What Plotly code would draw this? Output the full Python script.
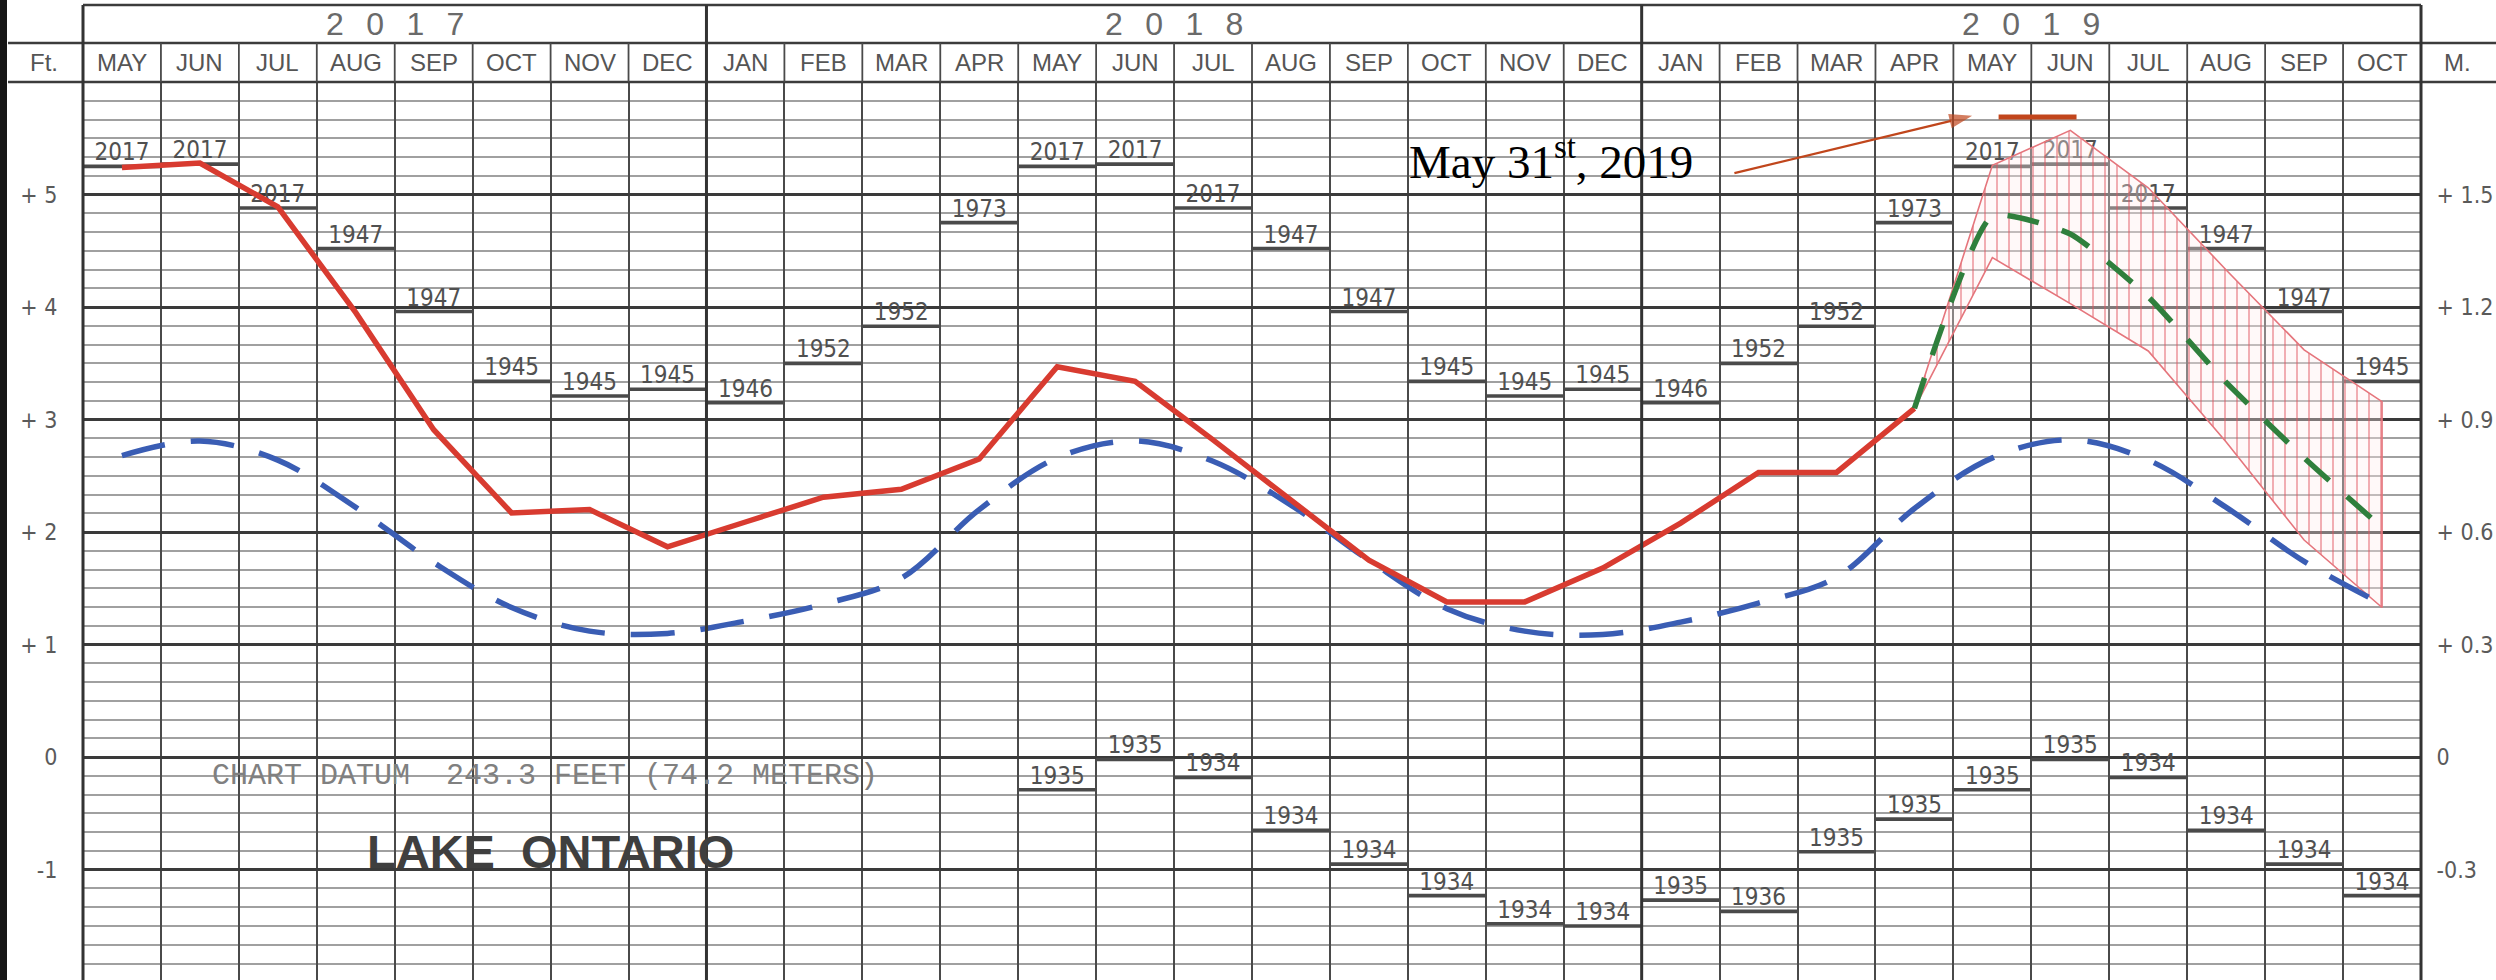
import plotly.graph_objects as go

# ---------------- data ----------------
month_labels = ["MAY", "JUN", "JUL", "AUG", "SEP", "OCT", "NOV", "DEC",
                "JAN", "FEB", "MAR", "APR", "MAY", "JUN", "JUL", "AUG", "SEP", "OCT", "NOV", "DEC",
                "JAN", "FEB", "MAR", "APR", "MAY", "JUN", "JUL", "AUG", "SEP", "OCT"]
year_labels = ["2017", "2018", "2019"]
year_month_counts = [8, 12, 10]

# recorded monthly mean levels (ft above chart datum), May 2017 .. Apr 2019
recorded_ft = [5.24, 5.28, 4.89, 3.95, 2.91, 2.17, 2.20, 1.87,
               2.09, 2.31, 2.38, 2.65, 3.47, 3.34, 2.82, 2.28, 1.75, 1.38, 1.38, 1.68,
               2.08, 2.53, 2.53, 3.10]

# long-term average levels, May 2017 .. Oct 2019
average_ft = [2.68, 2.81, 2.64, 2.22, 1.73, 1.33, 1.12, 1.10,
              1.21, 1.36, 1.59, 2.20, 2.66, 2.81, 2.63, 2.24, 1.75, 1.32, 1.12, 1.09,
              1.20, 1.37, 1.60, 2.21, 2.66, 2.82, 2.64, 2.22, 1.74, 1.36]

# forecast Apr 2019 .. Oct 2019
forecast_ft = [3.10, 4.81, 4.65, 4.09, 3.33, 2.66, 2.04]
forecast_upper_ft = [3.10, 5.26, 5.57, 5.06, 4.33, 3.62, 3.16]
forecast_lower_ft = [3.10, 4.44, 4.03, 3.61, 2.80, 1.93, 1.33]

# record highs / lows by calendar month (JAN..DEC)
record_high_year = ["1946", "1952", "1952", "1973", "2017", "2017", "2017", "1947", "1947", "1945", "1945", "1945"]
record_high_ft = [3.15, 3.50, 3.83, 4.75, 5.25, 5.27, 4.88, 4.52, 3.96, 3.34, 3.21, 3.27]
record_low_year = ["1935", "1936", "1935", "1935", "1935", "1935", "1934", "1934", "1934", "1934", "1934", "1934"]
record_low_ft = [-1.27, -1.37, -0.84, -0.55, -0.29, -0.02, -0.18, -0.65, -0.95, -1.23, -1.48, -1.50]
first_low_column = 12  # record lows are shown from May 2018 on

may31_level_ft = 5.69
may31_bar_x = [24.58, 25.58]
arrow_x = [21.19, 24.24]
arrow_y = [5.19, 5.70]

left_tick_vals = [-1, 0, 1, 2, 3, 4, 5]
left_tick_text = ["-1", "0", "+ 1", "+ 2", "+ 3", "+ 4", "+ 5"]
right_tick_text = ["-0.3", "0", "+ 0.3", "+ 0.6", "+ 0.9", "+ 1.2", "+ 1.5"]

# ---------------- layout constants ----------------
W, H = 2496, 980
ML, MR, MT, MB = 83, 75, 5, 0
PW = W - ML - MR
PH = H - MT - MB
D = 1 - (82 - MT) / PH        # top of grid area (paper)
HM = 1 - (43 - MT) / PH       # year / month row divider (paper)
N = len(month_labels)

NARROW = "Liberation Sans Narrow, Arial Narrow, DejaVu Sans Condensed, Liberation Sans, sans-serif"
SANS = "Liberation Sans, Arial, sans-serif"
GRAY_TXT = "#505050"

centers = [i + 0.5 for i in range(N)]
cal_idx = [(4 + i) % 12 for i in range(N)]

fig = go.Figure()

# record high / low bars
hx, hy, tx, ty, tt = [], [], [], [], []
for i in range(N):
    c = cal_idx[i]
    hx += [i, i + 1, None]
    hy += [record_high_ft[c], record_high_ft[c], None]
    tx.append(centers[i]); ty.append(record_high_ft[c]); tt.append(record_high_year[c])
for i in range(first_low_column, N):
    c = cal_idx[i]
    hx += [i, i + 1, None]
    hy += [record_low_ft[c], record_low_ft[c], None]
    tx.append(centers[i]); ty.append(record_low_ft[c]); tt.append(record_low_year[c])

fig.add_trace(go.Scatter(x=hx, y=hy, mode="lines", line=dict(color="#4a4a4a", width=3.6),
                         hoverinfo="skip"))
fig.add_trace(go.Scatter(x=tx, y=ty, mode="text", text=tt, textposition="top center",
                         textfont=dict(family=NARROW, size=24, color=GRAY_TXT), hoverinfo="skip"))

# forecast band
fc_x = centers[len(recorded_ft) - 1:]
band_x = fc_x + fc_x[::-1]
band_y = forecast_upper_ft + forecast_lower_ft[::-1]
fig.add_trace(go.Scatter(x=band_x, y=band_y, mode="lines", fill="toself",
                         line=dict(color="#e5757c", width=1.6),
                         fillcolor="rgba(253,236,236,0.35)",
                         fillpattern=dict(shape="|", fgcolor="#e0505a", bgcolor="rgba(253,236,236,0.35)",
                                          size=12, solidity=0.15),
                         hoverinfo="skip"))

# long-term average
fig.add_trace(go.Scatter(x=centers, y=average_ft, mode="lines",
                         line=dict(color="#3a5db4", width=5.5, dash="44px,26px", shape="spline", smoothing=1.0),
                         hoverinfo="skip"))

# recorded
fig.add_trace(go.Scatter(x=centers[:len(recorded_ft)], y=recorded_ft, mode="lines",
                         line=dict(color="#d83b30", width=5.5), hoverinfo="skip"))

# forecast
fig.add_trace(go.Scatter(x=fc_x, y=forecast_ft, mode="lines",
                         line=dict(color="#2f7f3c", width=5.5, dash="32px,24px", shape="spline", smoothing=0.5),
                         hoverinfo="skip"))

# May 31st level bar
fig.add_trace(go.Scatter(x=may31_bar_x, y=[may31_level_ft, may31_level_ft], mode="lines",
                         line=dict(color="#c2461c", width=5), hoverinfo="skip"))

# arrow pointing to the May 31st level
fig.add_trace(go.Scatter(x=arrow_x, y=arrow_y, mode="lines+markers",
                         line=dict(color="#c0461c", width=2.2),
                         marker=dict(symbol=["circle", "arrow"], size=[0, 24], angleref="previous",
                                     color="#c0461c", line=dict(width=0)),
                         hoverinfo="skip"))

# dummy trace for right axis
fig.add_trace(go.Scatter(x=[0], y=[0], yaxis="y2", mode="markers", marker=dict(opacity=0),
                         hoverinfo="skip"))

shapes = []
# left black strip
shapes.append(dict(type="rect", xref="paper", yref="paper", x0=-ML / PW, x1=(7 - ML) / PW,
                   y0=-0.01, y1=1 + MT / PH + 0.01, fillcolor="#161616", line=dict(width=0), layer="above"))
# header horizontal lines
for yy in (HM, D):
    shapes.append(dict(type="line", xref="paper", yref="paper", x0=(8 - ML) / PW, x1=(W - ML) / PW,
                       y0=yy, y1=yy, line=dict(color="#3c3c3c", width=2.6), layer="above"))
shapes.append(dict(type="line", xref="paper", yref="paper", x0=0, x1=1, y0=1, y1=1,
                   line=dict(color="#3c3c3c", width=2.6), layer="above"))
# month separators in month row
year_bounds = [0]
for n in year_month_counts:
    year_bounds.append(year_bounds[-1] + n)
for i in range(1, N):
    if i in year_bounds:
        continue
    shapes.append(dict(type="line", xref="x", yref="paper", x0=i, x1=i, y0=D, y1=HM,
                       line=dict(color="#4a4a4a", width=1.8), layer="above"))
# year boundaries (full height)
for b in year_bounds[1:-1]:
    shapes.append(dict(type="line", xref="x", yref="paper", x0=b, x1=b, y0=0, y1=1,
                       line=dict(color="#333333", width=3), layer="above"))
# frame left / right
for px in (0, 1):
    shapes.append(dict(type="line", xref="paper", yref="paper", x0=px, x1=px, y0=0, y1=1,
                       line=dict(color="#333333", width=3), layer="above"))

annotations = []
for i, m in enumerate(month_labels):
    annotations.append(dict(x=centers[i], y=(D + HM) / 2, xref="x", yref="paper", text=m, showarrow=False,
                            font=dict(family=SANS, size=24, color="#555555"), xanchor="center", yanchor="middle"))
for k, yl in enumerate(year_labels):
    annotations.append(dict(x=(year_bounds[k] + year_bounds[k + 1]) / 2, y=(HM + 1) / 2, xref="x", yref="paper",
                            text="\u2002\u2009".join(list(yl)), showarrow=False,
                            font=dict(family=SANS, size=32, color="#6a6a6a"), xanchor="center", yanchor="middle"))
annotations.append(dict(x=(44 - ML) / PW, y=(D + HM) / 2, xref="paper", yref="paper", text="Ft.", showarrow=False,
                        font=dict(family=SANS, size=24, color="#555555"), xanchor="center", yanchor="middle"))
annotations.append(dict(x=(2457 - ML) / PW, y=(D + HM) / 2, xref="paper", yref="paper", text="M.", showarrow=False,
                        font=dict(family=SANS, size=24, color="#555555"), xanchor="center", yanchor="middle"))
annotations.append(dict(x=5.93, y=-0.17, xref="x", yref="y",
                        text="CHART DATUM\u00a0\u00a0243.3 FEET (74.2 METERS)", showarrow=False,
                        font=dict(family="Liberation Mono, DejaVu Sans Mono, monospace", size=30, color="#808080"),
                        xanchor="center", yanchor="middle"))
annotations.append(dict(x=6.0, y=-0.84, xref="x", yref="y", text="LAKE\u00a0\u00a0ONTARIO", showarrow=False,
                        font=dict(family=SANS, size=47, color="#3f3f3f", weight="bold"),
                        xanchor="center", yanchor="middle"))
annotations.append(dict(x=16.99, y=5.32, xref="x", yref="y", text="May 31<sup>st</sup>, 2019", showarrow=False,
                        font=dict(family="Liberation Serif, Times New Roman, serif", size=47, color="#000000"),
                        xanchor="left", yanchor="middle"))

tickfont = dict(family=NARROW, size=23, color="#5a5a5a")
fig.update_layout(
    width=W, height=H, margin=dict(l=ML, r=MR, t=MT, b=MB, pad=0),
    paper_bgcolor="white", plot_bgcolor="white", showlegend=False,
    xaxis=dict(range=[0, N], domain=[0, 1], tickmode="array", tickvals=list(range(N + 1)),
               showticklabels=False, ticks="", showgrid=True, gridcolor="#4a4a4a", gridwidth=1.8,
               zeroline=False, showline=False, fixedrange=True),
    yaxis=dict(range=[-1.98, 6], domain=[0, D], tickmode="array", tickvals=left_tick_vals,
               ticktext=left_tick_text, ticks="outside", ticklen=20, tickcolor="rgba(0,0,0,0)",
               showgrid=True, gridcolor="#3a3a3a", gridwidth=2.6, zeroline=False, showline=False,
               tickfont=tickfont, fixedrange=True,
               minor=dict(tickmode="linear", tick0=0, dtick=1 / 6, showgrid=True,
                          gridcolor="#a0a0a0", gridwidth=1.6, ticks="")),
    yaxis2=dict(range=[-1.98, 6], overlaying="y", side="right", anchor="x", tickmode="array",
                tickvals=left_tick_vals, ticktext=right_tick_text, ticks="outside", ticklen=10,
                tickcolor="rgba(0,0,0,0)", showgrid=False, zeroline=False, showline=False,
                tickfont=tickfont, fixedrange=True),
    shapes=shapes, annotations=annotations,
)

fig.write_html("out.html", include_plotlyjs=True, config={"displayModeBar": False},
               post_script="document.body.style.margin='0';document.body.style.overflow='hidden';")
